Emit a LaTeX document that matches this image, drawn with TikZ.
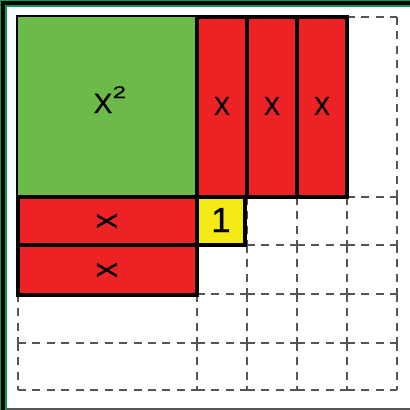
\documentclass[tikz,border=0pt]{standalone}
\usepackage{fontspec}
\setmainfont{Liberation Sans}
\newfontfamily\lblfont[FakeBold=0.8]{Liberation Sans}
\newfontfamily\lblboldfont[FakeBold=2]{Liberation Sans}
\definecolor{tilegreen}{RGB}{108,187,74}
\definecolor{tilered}{RGB}{237,34,36}
\definecolor{tileyellow}{RGB}{244,235,22}
\definecolor{framegreen}{RGB}{0,160,80}
\definecolor{gridgray}{RGB}{85,85,85}
\begin{document}
\begin{tikzpicture}[x=1bp,y=-1bp,
  gridline/.style={draw=gridgray, line width=1.5pt, dash pattern=on 8pt off 6.5pt},
  tile/.style={draw=black, line width=3.5pt, line join=miter},
  lbl/.style={inner sep=0pt, font=\lblfont\fontsize{26}{26}\selectfont}]
\useasboundingbox (0,0) rectangle (410,410);
% frame
\draw[framegreen, line width=1pt] (0.5,410) -- (0.5,0.5) -- (410,0.5);
\draw[black, line width=4pt] (3,410) -- (3,3) -- (410,3);
\draw[framegreen, line width=2pt] (6,410) -- (6,6) -- (410,6);
\draw[gridgray, line width=2pt] (7,409) -- (410,409);
% dashed grid, each cell edge separately
\foreach \xa/\xb in {18/197,197/247,247/297,297/347,347/397}
  \foreach \y in {17,197,245,294,343,390}
    \draw[gridline] (\xa,\y) -- (\xb,\y);
\foreach \ya/\yb in {17/197,197/245,245/294,294/343,343/390}
  \foreach \x in {18,197,247,297,347,397}
    \draw[gridline] (\x,\ya) -- (\x,\yb);
% tiles
\filldraw[tile, fill=tilegreen, line width=2.5pt] (17,16) rectangle (197,197);
\filldraw[tile, fill=tilered] (197,17) rectangle (247,197);
\filldraw[tile, fill=tilered] (247,17) rectangle (297,197);
\filldraw[tile, fill=tilered] (297,17) rectangle (347,197);
\filldraw[tile, fill=tilered] (18,197) rectangle (197,245);
\filldraw[tile, fill=tilered] (18,245) rectangle (197,295);
\filldraw[tile, fill=tileyellow] (197,197) rectangle (245,245);
% labels
\node[lbl, anchor=base west, font=\lblfont\fontsize{28}{28}\selectfont] (xsq) at (93.5,113) {X\hspace{0.5pt}\raisebox{15pt}{\fontsize{17}{17}\selectfont\scalebox{1.4}[1]{2}}};
\node[lbl] (xa) at (222,106) {\scalebox{0.92}[1]{X}};
\node[lbl] (xb) at (272,106) {\scalebox{0.92}[1]{X}};
\node[lbl] (xc) at (322,106) {\scalebox{0.92}[1]{X}};
\node[lbl, rotate=90, font=\lblboldfont\fontsize{28}{28}\selectfont] (xd) at (107,221) {\scalebox{0.8}[1]{X}};
\node[lbl, rotate=90, font=\lblboldfont\fontsize{28}{28}\selectfont] (xe) at (107,270) {\scalebox{0.8}[1]{X}};
\node[lbl, font=\lblfont\fontsize{35}{35}\selectfont] (one) at (221,220) {1};
\end{tikzpicture}
\end{document}
